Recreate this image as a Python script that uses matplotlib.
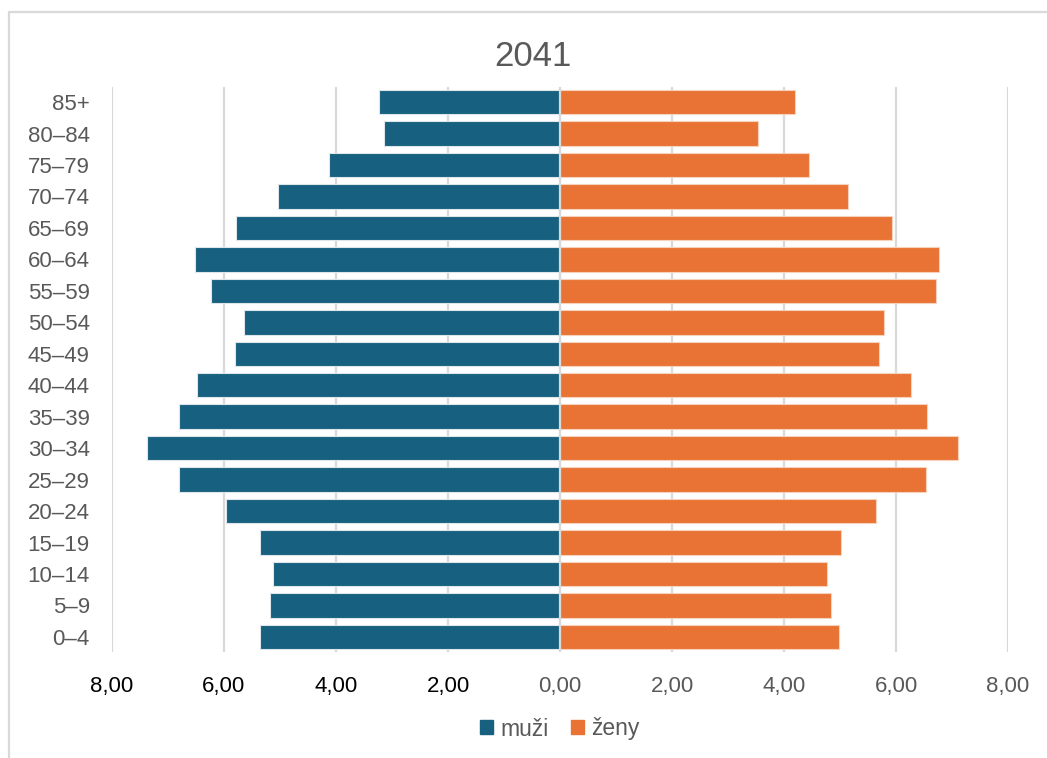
import numpy as np
import matplotlib.pyplot as plt
from matplotlib.patches import Rectangle, Patch

plt.rcParams['font.family'] = ['Liberation Sans', 'DejaVu Sans']

# vekove skupiny (odspodu nahoru)
skupiny = ['0–4', '5–9', '10–14', '15–19', '20–24', '25–29', '30–34', '35–39',
           '40–44', '45–49', '50–54', '55–59', '60–64', '65–69', '70–74',
           '75–79', '80–84', '85+']

# podil v procentech
muzi = [5.35, 5.17, 5.12, 5.36, 5.96, 6.80, 7.37, 6.80, 6.49, 5.80, 5.64,
        6.24, 6.51, 5.79, 5.03, 4.13, 3.15, 3.24]
zeny = [4.99, 4.84, 4.77, 5.01, 5.64, 6.54, 7.10, 6.55, 6.27, 5.70, 5.78,
        6.71, 6.76, 5.92, 5.14, 4.45, 3.54, 4.20]

tiky = [-8, -6, -4, -2, 0, 2, 4, 6, 8]
rok = '2041'

MODRA = '#17607F'
ORANZ = '#E87334'
SEDA = '#595959'
MRIZKA = '#D9D9D9'

W, H = 1047, 758
fig = plt.figure(figsize=(W / 100, H / 100), dpi=100)
ax = fig.add_axes([112 / W, 1 - 652 / H, 896 / W, 565 / H])

y = np.arange(len(skupiny))
ax.barh(y, -np.array(muzi), height=0.78, color=MODRA, edgecolor='#dde6ea', linewidth=0.8, zorder=2)
ax.barh(y, zeny, height=0.78, color=ORANZ, edgecolor='#f6d2bd', linewidth=0.8, zorder=2)

ax.set_xlim(-8, 8)
ax.set_ylim(-0.48, 17.48)
ax.set_yticks(y)
ax.set_yticklabels(skupiny, fontsize=16, color=SEDA)
ax.set_xticks(tiky)
ax.set_xticklabels([f'{abs(t):.2f}'.replace('.', ',') for t in tiky], fontsize=16)
for t, lab in zip(tiky, ax.get_xticklabels()):
    lab.set_color('black' if t < 0 else SEDA)

ax.tick_params(axis='both', length=0)
ax.tick_params(axis='x', pad=17)
ax.tick_params(axis='y', pad=16)
ax.grid(axis='x', color=MRIZKA, linewidth=1.6, zorder=0)
ax.axvline(0, color=MRIZKA, linewidth=1.6, zorder=3)
for s in ax.spines.values():
    s.set_visible(False)

fig.text(533 / W, 1 - 56 / H, rok, fontsize=25, color=SEDA, ha='center', va='center')

fig.legend(handles=[Patch(color=MODRA, label='muži'), Patch(color=ORANZ, label='ženy')],
           loc='center', bbox_to_anchor=(560 / W, 1 - 729 / H), ncol=2, frameon=False,
           fontsize=16.5, labelcolor=SEDA, handlelength=0.57, handleheight=0.57,
           handletextpad=0.32, columnspacing=0.95)

# ramecek grafu
fig.add_artist(Rectangle((9 / W, -0.1), 2, 1 - 12 / H + 0.1, transform=fig.transFigure,
                         fill=False, edgecolor=MRIZKA, linewidth=1.6))

fig.savefig('out.png', dpi=100)
